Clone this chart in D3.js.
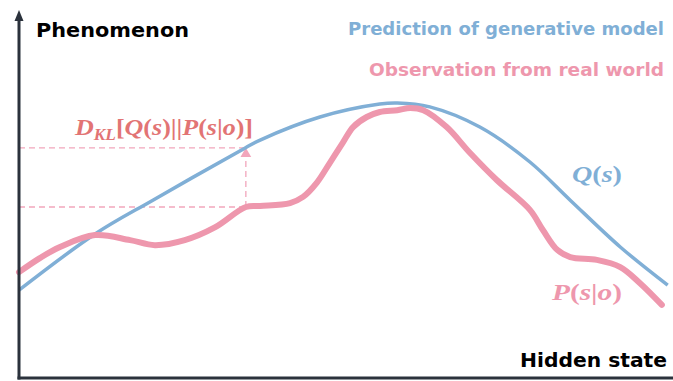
<!DOCTYPE html>
<html>
<head>
<meta charset="utf-8">
<script src="https://cdn.jsdelivr.net/npm/d3@7"></script>
<style>
  body { margin: 0; background: #fff; }
  .label { font-family: "DejaVu Sans", sans-serif; font-weight: bold; }
  .math { font-family: "Liberation Serif", serif; font-weight: bold; }
</style>
</head>
<body>
<div class="chart"></div>
<script>

// hidden state (0-100) and phenomenon level (0-100)
const predX = [0, 11.7, 20.6, 34.8, 37.1, 46.3, 55.5, 58.2, 63.2, 70.9, 78.6, 84.8, 92.5, 99.8]
const predY = [24.4, 40.0, 49.4, 63.9, 66.1, 72.5, 76.1, 76.4, 75.3, 69.7, 60.0, 49.4, 36.4, 25.8]

const obsX = [0, 3.2, 6.3, 11.7, 17.1, 20.9, 25.5, 30.2, 34.9, 37.1, 41.7, 43.7, 45.8, 47.8, 49.8,
    51.4, 53.5, 55.5, 58.2, 60.2, 62.2, 65.8, 69.4, 73.5, 78.6, 80.6, 82.8, 84.8, 88.9, 92.5, 95.5, 98.9]
const obsY = [29.4, 33.3, 36.4, 39.7, 38.3, 36.9, 38.3, 41.9, 47.5, 47.8, 48.6, 50.3, 54.2, 59.7, 65.3,
    69.7, 72.5, 73.9, 74.4, 75.0, 74.4, 69.7, 62.5, 55.0, 46.7, 41.1, 35.6, 33.6, 32.8, 30.8, 26.4, 20.3]

// where the divergence is marked
const dklX = 34.9
const dklQ = 63.9
const dklP = 47.5

const width = 673, height = 381

let svg = d3.select(".chart").append("svg")
    .attr("width", width)
    .attr("height", height)

let xScale = d3.scaleLinear().domain([0, 100]).range([19, 669])
let yScale = d3.scaleLinear().domain([0, 100]).range([378, 18])

const blue = "#80afd6", pink = "#ee97ad", dash = "#f2a6bc", red = "#e27474", axisColor = "#2b323c"

// dashed guides
svg.append("line")
    .attr("x1", xScale(0)).attr("x2", xScale(dklX))
    .attr("y1", yScale(dklQ)).attr("y2", yScale(dklQ))
    .attr("stroke", dash).attr("stroke-width", 1.3)
    .attr("stroke-dasharray", "6,4")

svg.append("line")
    .attr("x1", xScale(0)).attr("x2", xScale(dklX))
    .attr("y1", yScale(dklP)).attr("y2", yScale(dklP))
    .attr("stroke", dash).attr("stroke-width", 1.3)
    .attr("stroke-dasharray", "6,4")

svg.append("line")
    .attr("x1", xScale(dklX)).attr("x2", xScale(dklX))
    .attr("y1", yScale(dklP)).attr("y2", yScale(dklQ) + 8)
    .attr("stroke", dash).attr("stroke-width", 1.3)
    .attr("stroke-dasharray", "6,4")

svg.append("path")
    .attr("d", d3.symbol().type(d3.symbolTriangle).size(50))
    .attr("transform", `translate(${xScale(dklX)},${yScale(dklQ) + 6})`)
    .attr("fill", dash)

// curves
let line = d3.line()
    .x(d => xScale(d[0]))
    .y(d => yScale(d[1]))
    .curve(d3.curveCatmullRom.alpha(0.5))

svg.append("path")
    .datum(predX.map((x, i) => [x, predY[i]]))
    .attr("fill", "none")
    .attr("stroke", blue)
    .attr("stroke-width", 3.5)
    .attr("d", line)

svg.append("path")
    .datum(obsX.map((x, i) => [x, obsY[i]]))
    .attr("fill", "none")
    .attr("stroke", pink)
    .attr("stroke-width", 6)
    .attr("stroke-linecap", "round")
    .attr("d", line)

// axes
svg.append("g")
    .attr("transform", `translate(0, ${yScale(0)})`)
    .call(d3.axisBottom(xScale).ticks(0).tickSizeOuter(0))
    .call(g => g.select(".domain")
        .attr("stroke", axisColor).attr("stroke-width", 3)
        .attr("d", `M${xScale(0) - 1.5},0H${width}`))

svg.append("g")
    .attr("transform", `translate(${xScale(0)}, 0)`)
    .call(d3.axisLeft(yScale).ticks(0).tickSizeOuter(0))
    .call(g => g.select(".domain")
        .attr("stroke", axisColor).attr("stroke-width", 3)
        .attr("d", `M0,${yScale(0) + 1.5}V${yScale(100)}`))

svg.append("path")
    .attr("d", `M${xScale(0)},${yScale(100) - 8}L${xScale(0) + 4.5},${yScale(100) + 3}L${xScale(0) - 4.5},${yScale(100) + 3}Z`)
    .attr("fill", axisColor)

// labels
function label(x, y, size, color, len, txt) {
    svg.append("text").attr("class", "label")
        .attr("x", x).attr("y", y)
        .attr("font-size", size).attr("fill", color)
        .attr("textLength", len)
        .attr("lengthAdjust", "spacingAndGlyphs")
        .text(txt)
}

label(36, 37, 20, "#000", 153, "Phenomenon")
label(348, 35, 18, blue, 316, "Prediction of generative model")
label(369, 76, 18, pink, 295, "Observation from real world")
label(520, 367, 20, "#000", 147, "Hidden state")

// math labels
function mathText(x, y, color, len, parts) {
    let t = svg.append("text").attr("class", "math")
        .attr("x", x).attr("y", y)
        .attr("font-size", 24).attr("fill", color)
        .attr("textLength", len)
        .attr("lengthAdjust", "spacingAndGlyphs")
    parts.forEach(p => {
        let s = t.append("tspan").text(p[0])
            .attr("font-style", p[1] ? "italic" : "normal")
        if (p[2]) s.attr("font-size", 16).attr("dy", 5)
        if (p[3]) s.attr("dy", -5)
    })
    return t
}

mathText(75, 135, red, 178, [["D", 1], ["KL", 1, 1], ["[", 0, 0, 1], ["Q", 1], ["(", 0], ["s", 1], [")||", 0],
    ["P", 1], ["(", 0], ["s", 1], ["|", 0], ["o", 1], [")]", 0]])

mathText(572, 182, blue, 50, [["Q", 1], ["(", 0], ["s", 1], [")", 0]])

mathText(552, 300, pink, 70, [["P", 1], ["(", 0], ["s", 1], ["|", 0], ["o", 1], [")", 0]])

</script>
</body>
</html>
